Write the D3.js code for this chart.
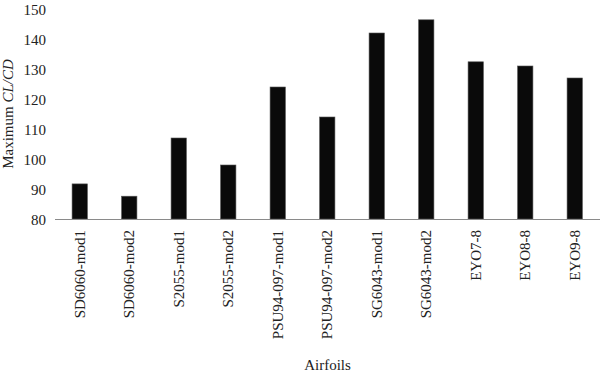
<html>
<head>
<script src="https://d3js.org/d3.v7.min.js"></script>
<style>
    body { margin: 0; background: #fff; }
    svg { font-family: "Liberation Serif", "DejaVu Serif", serif; }
    .tick text { fill: #222; }
</style>
</head>
<body>
<svg id='chart' width=600 height=376></svg>
<script>

    let airfoils = ['SD6060-mod1', 'SD6060-mod2', 'S2055-mod1', 'S2055-mod2',
        'PSU94-097-mod1', 'PSU94-097-mod2', 'SG6043-mod1', 'SG6043-mod2',
        'EYO7-8', 'EYO8-8', 'EYO9-8'];
    let maxClCd = [91.7, 87.6, 107, 98, 124, 114, 142, 146.4, 132.4, 131, 127];
    let yTicks = [80, 90, 100, 110, 120, 130, 140, 150];

    let svg = d3.select('#chart');
    let margin = {top: 9, right: 0, bottom: 157, left: 55},
        width = +svg.attr('width') - margin.left - margin.right,
        height = +svg.attr('height') - margin.top - margin.bottom;

    let g = svg.append('g')
        .attr('transform', 'translate(' + margin.left + ',' + margin.top + ')');

    let x = d3.scaleBand()
        .domain(airfoils)
        .range([0, width - 0.5])
        .paddingInner(0.69)
        .paddingOuter(0.345);

    let y = d3.scaleLinear()
        .domain([80, 150])
        .range([height, 0]);

    let serif = '"Liberation Serif", "DejaVu Serif", serif';

    // y axis: labels only
    let yAxis = g.append('g')
        .call(d3.axisLeft(y).tickValues(yTicks).tickSize(0).tickPadding(9))
        .attr('font-family', serif);
    yAxis.select('.domain').remove();
    yAxis.selectAll('text').style('font-size', '15px').attr('dy', '0.34em');

    g.selectAll('.bar')
        .data(airfoils)
      .enter()
        .append('rect')
        .attr('class', 'bar')
        .attr('x', d => x(d))
        .attr('width', x.bandwidth())
        .attr('y', (d, i) => y(maxClCd[i]))
        .attr('height', (d, i) => height - y(maxClCd[i]))
        .attr('fill', '#0a0a0a')
        .attr('stroke', '#555')
        .attr('stroke-width', 0.6);

    // x axis
    let xAxis = g.append('g')
        .attr('transform', 'translate(0,' + height + ')')
        .call(d3.axisBottom(x).tickSize(0).tickSizeOuter(0))
        .attr('font-family', serif);
    xAxis.select('.domain').attr('stroke', '#8a8a8a').attr('d', 'M0,0.5H' + width);
    xAxis.selectAll('text')
        .style('font-size', '15px')
        .attr('text-anchor', 'end')
        .attr('transform', 'rotate(-90)')
        .attr('x', -11)
        .attr('y', 0)
        .attr('dy', '0.34em');

    // axis titles
    svg.append('text')
        .attr('x', margin.left + width / 2)
        .attr('y', 370)
        .attr('text-anchor', 'middle')
        .style('font-size', '15px')
        .attr('fill', '#222')
        .text('Airfoils');

    let yl = svg.append('text')
        .attr('transform', 'translate(13,114) rotate(-90)')
        .attr('text-anchor', 'middle')
        .style('font-size', '15px')
        .attr('fill', '#222');
    yl.append('tspan').text('Maximum ');
    yl.append('tspan').style('font-style', 'italic').text('CL/CD');

</script>
</body>
</html>
